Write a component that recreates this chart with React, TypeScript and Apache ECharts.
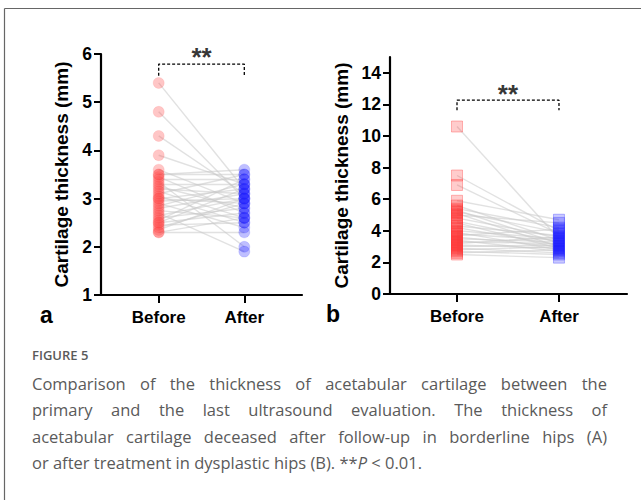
import React, { useEffect, useRef } from "react";
import * as echarts from "echarts";

const categories = ["Before", "After"];
const yTicksA = [1, 2, 3, 4, 5, 6];
const yTicksB = [0, 2, 4, 6, 8, 10, 12, 14];

const beforeA = [5.4, 4.8, 4.3, 3.9, 3.6, 3.5, 3.5, 3.45, 3.4, 3.35, 3.3, 3.25, 3.2, 3.15, 3.1, 3.05, 3.0, 3.0, 2.95, 2.9, 2.85, 2.8, 2.75, 2.7, 2.65, 2.6, 2.55, 2.5, 2.5, 2.45, 2.4, 2.35, 2.3, 2.3];
const afterA = [3.2, 3.0, 3.1, 3.3, 2.9, 3.5, 3.6, 2.7, 3.4, 2.0, 3.3, 2.8, 3.1, 2.6, 3.5, 2.5, 3.2, 2.9, 3.0, 2.4, 3.3, 3.1, 2.6, 1.9, 3.0, 2.8, 3.4, 2.7, 3.2, 2.5, 2.9, 3.0, 2.3, 2.6];

const beforeB = [10.6, 7.5, 6.9, 5.9, 5.6, 5.4, 5.3, 5.2, 5.1, 5.0, 4.8, 4.6, 4.5, 4.3, 4.2, 4.0, 3.9, 3.8, 3.7, 3.6, 3.5, 3.4, 3.3, 3.2, 3.1, 3.0, 2.9, 2.8, 2.7, 2.6, 2.5];
const afterB = [3.5, 4.0, 3.8, 4.7, 3.4, 4.2, 3.2, 3.9, 3.0, 4.5, 3.6, 3.3, 2.9, 3.7, 3.1, 3.5, 2.8, 3.4, 4.1, 3.0, 3.3, 2.7, 3.2, 3.6, 2.9, 3.1, 2.6, 3.0, 2.5, 2.8, 2.3];

// significance bracket: [leg bottom, bar height, label position]
const sigA = [5.55, 5.79, 5.93];
const sigB = [11.63, 12.27, 12.65];
const sigText = "**";

const yTitle = "Cartilage thickness (mm)";
const panelLetters = ["a", "b"];
const figureLabel = "FIGURE 5";
const captionLines = [
  "Comparison of the thickness of acetabular cartilage between the",
  "primary and the last ultrasound evaluation. The thickness of",
  "acetabular cartilage deceased after follow-up in borderline hips (A)",
];
const captionLast = "or after treatment in dysplastic hips (B). **{i|P} < 0.01.";

const FONT = '"Liberation Sans", Arial, sans-serif';
const CAP_FONT = '"Open Sans", sans-serif';
const CAP_SIZE = 16.5;

function justified(text: string, x0: number, x1: number, y: number, size: number) {
  const cv = document.createElement("canvas");
  const ctx = cv.getContext("2d")!;
  ctx.font = `${size}px "Open Sans"`;
  const words = text.split(" ");
  const widths = words.map((w) => ctx.measureText(w).width);
  const total = widths.reduce((a, b) => a + b, 0);
  const gap = (x1 - x0 - total) / (words.length - 1);
  let x = x0;
  return words.map((w, i) => {
    const el = {
      type: "text",
      x,
      y,
      style: { text: w, fontSize: size, fontFamily: CAP_FONT, fill: "#5a5a5a", verticalAlign: "middle" },
    };
    x += widths[i] + gap;
    return el;
  });
}

export default function App() {
  const ref = useRef<HTMLDivElement>(null);
  useEffect(() => {
    const chart = echarts.init(ref.current!, null, { renderer: "svg" });

    const axisLine = { lineStyle: { color: "#000", width: 2.2 } };
    const yAxisCommon = (ticks: number[], gap: number) => ({
      type: "value",
      name: yTitle,
      nameLocation: "middle",
      nameGap: gap,
      nameTextStyle: { fontFamily: FONT, fontWeight: "bold", fontSize: 19, color: "#000" },
      axisLine: { show: true, ...axisLine },
      axisTick: { show: true, length: 7, lineStyle: { color: "#000", width: 2 }, customValues: ticks },
      axisLabel: { customValues: ticks, fontFamily: FONT, fontWeight: "bold", fontSize: 17.5, color: "#000", margin: 9 },
      splitLine: { show: false },
    });
    const xAxisCommon = (min: number, max: number) => ({
      type: "value",
      min,
      max,
      axisLine: { show: true, onZero: false, ...axisLine },
      axisTick: { show: true, length: 8, lineStyle: { color: "#000", width: 2 }, customValues: [1, 2] },
      axisLabel: {
        customValues: [1, 2],
        formatter: (v: number) => categories[Math.round(v) - 1] || "",
        fontFamily: FONT,
        fontWeight: "bold",
        fontSize: 17,
        color: "#000",
        margin: 14,
      },
      splitLine: { show: false },
    });

    const pairLines = (b: number[], a: number[], idx: number) => ({
      type: "lines",
      coordinateSystem: "cartesian2d",
      xAxisIndex: idx,
      yAxisIndex: idx,
      silent: true,
      z: 1,
      lineStyle: { color: "#c8c8c8", width: 1.4, opacity: 0.55 },
      data: b.map((v, i) => ({ coords: [[1, v], [2, a[i]]] })),
    });

    const pts = (vals: number[], x: number, idx: number, symbol: string, fill: string, border: string) => ({
      type: "scatter",
      xAxisIndex: idx,
      yAxisIndex: idx,
      symbol,
      symbolSize: 11,
      silent: true,
      z: 3,
      itemStyle: { color: fill, borderColor: border, borderWidth: 1 },
      data: vals.map((v) => [x, v]),
    });

    const bracket = (s: number[], idx: number) => ({
      type: "line",
      xAxisIndex: idx,
      yAxisIndex: idx,
      symbol: "none",
      silent: true,
      z: 4,
      lineStyle: { color: "#000", width: 1.3, type: [3, 2] },
      data: [[1, s[0]], [1, s[1]], [2, s[1]], [2, s[0]]],
    });
    const stars = (s: number[], idx: number) => ({
      type: "scatter",
      xAxisIndex: idx,
      yAxisIndex: idx,
      clip: false,
      silent: true,
      symbolSize: 1,
      itemStyle: { color: "rgba(0,0,0,0)" },
      label: {
        show: true,
        position: "inside",
        formatter: sigText,
        fontFamily: FONT,
        fontWeight: "bold",
        fontSize: 26,
        color: "#000",
      },
      data: [[1.5, s[2]]],
    });

    const graphics: any[] = [
      { type: "line", shape: { x1: 4.5, y1: 8.5, x2: 641, y2: 8.5 }, style: { stroke: "#666", lineWidth: 1.2 } },
      { type: "line", shape: { x1: 4.5, y1: 8.5, x2: 4.5, y2: 500 }, style: { stroke: "#666", lineWidth: 1.2 } },
      { type: "text", x: 40, y: 315, style: { text: panelLetters[0], fontFamily: FONT, fontWeight: "bold", fontSize: 23, fill: "#000", verticalAlign: "middle" } },
      { type: "text", x: 326, y: 314, style: { text: panelLetters[1], fontFamily: FONT, fontWeight: "bold", fontSize: 23, fill: "#000", verticalAlign: "middle" } },
      { type: "text", x: 32, y: 355, style: { text: figureLabel, fontFamily: CAP_FONT, fontWeight: 600, fontSize: 13, fill: "#5a5a5a", verticalAlign: "middle" } },
    ];
    captionLines.forEach((t, i) => {
      graphics.push(...justified(t, 32, 607, 383 + i * 26.5, CAP_SIZE));
    });
    graphics.push({
      type: "text",
      x: 32,
      y: 383 + 3 * 26.5,
      style: {
        text: captionLast,
        fontFamily: CAP_FONT,
        fontSize: CAP_SIZE,
        fill: "#5a5a5a",
        verticalAlign: "middle",
        rich: { i: { fontStyle: "italic", fontFamily: CAP_FONT, fontSize: CAP_SIZE, fill: "#5a5a5a" } },
      },
    });

    chart.setOption({
      animation: false,
      backgroundColor: "#fff",
      grid: [
        { left: 101, top: 54, width: 201, height: 241 },
        { left: 390, top: 57, width: 237, height: 237 },
      ],
      xAxis: [
        { gridIndex: 0, ...xAxisCommon(0.326, 2.674) },
        { gridIndex: 1, ...xAxisCommon(0.343, 2.667) },
      ],
      yAxis: [
        { gridIndex: 0, min: 1, max: 6, interval: 1, ...yAxisCommon(yTicksA, 30) },
        { gridIndex: 1, min: 0, max: 15, ...yAxisCommon(yTicksB, 39) },
      ],
      series: [
        pairLines(beforeA, afterA, 0),
        pts(beforeA, 1, 0, "circle", "rgba(255,70,70,0.38)", "rgba(255,70,70,0.15)"),
        pts(afterA, 2, 0, "circle", "rgba(30,30,255,0.36)", "rgba(30,30,255,0.15)"),
        bracket(sigA, 0),
        stars(sigA, 0),
        pairLines(beforeB, afterB, 1),
        pts(beforeB, 1, 1, "rect", "rgba(255,40,40,0.3)", "rgba(255,60,60,0.45)"),
        pts(afterB, 2, 1, "rect", "rgba(30,30,255,0.3)", "rgba(60,60,255,0.45)"),
        bracket(sigB, 1),
        stars(sigB, 1),
      ],
      graphic: graphics,
    });
    return () => chart.dispose();
  }, []);
  return <div ref={ref} style={{ position: "absolute", left: 0, top: 0, width: 641, height: 500, background: "#fff" }} />;
}
